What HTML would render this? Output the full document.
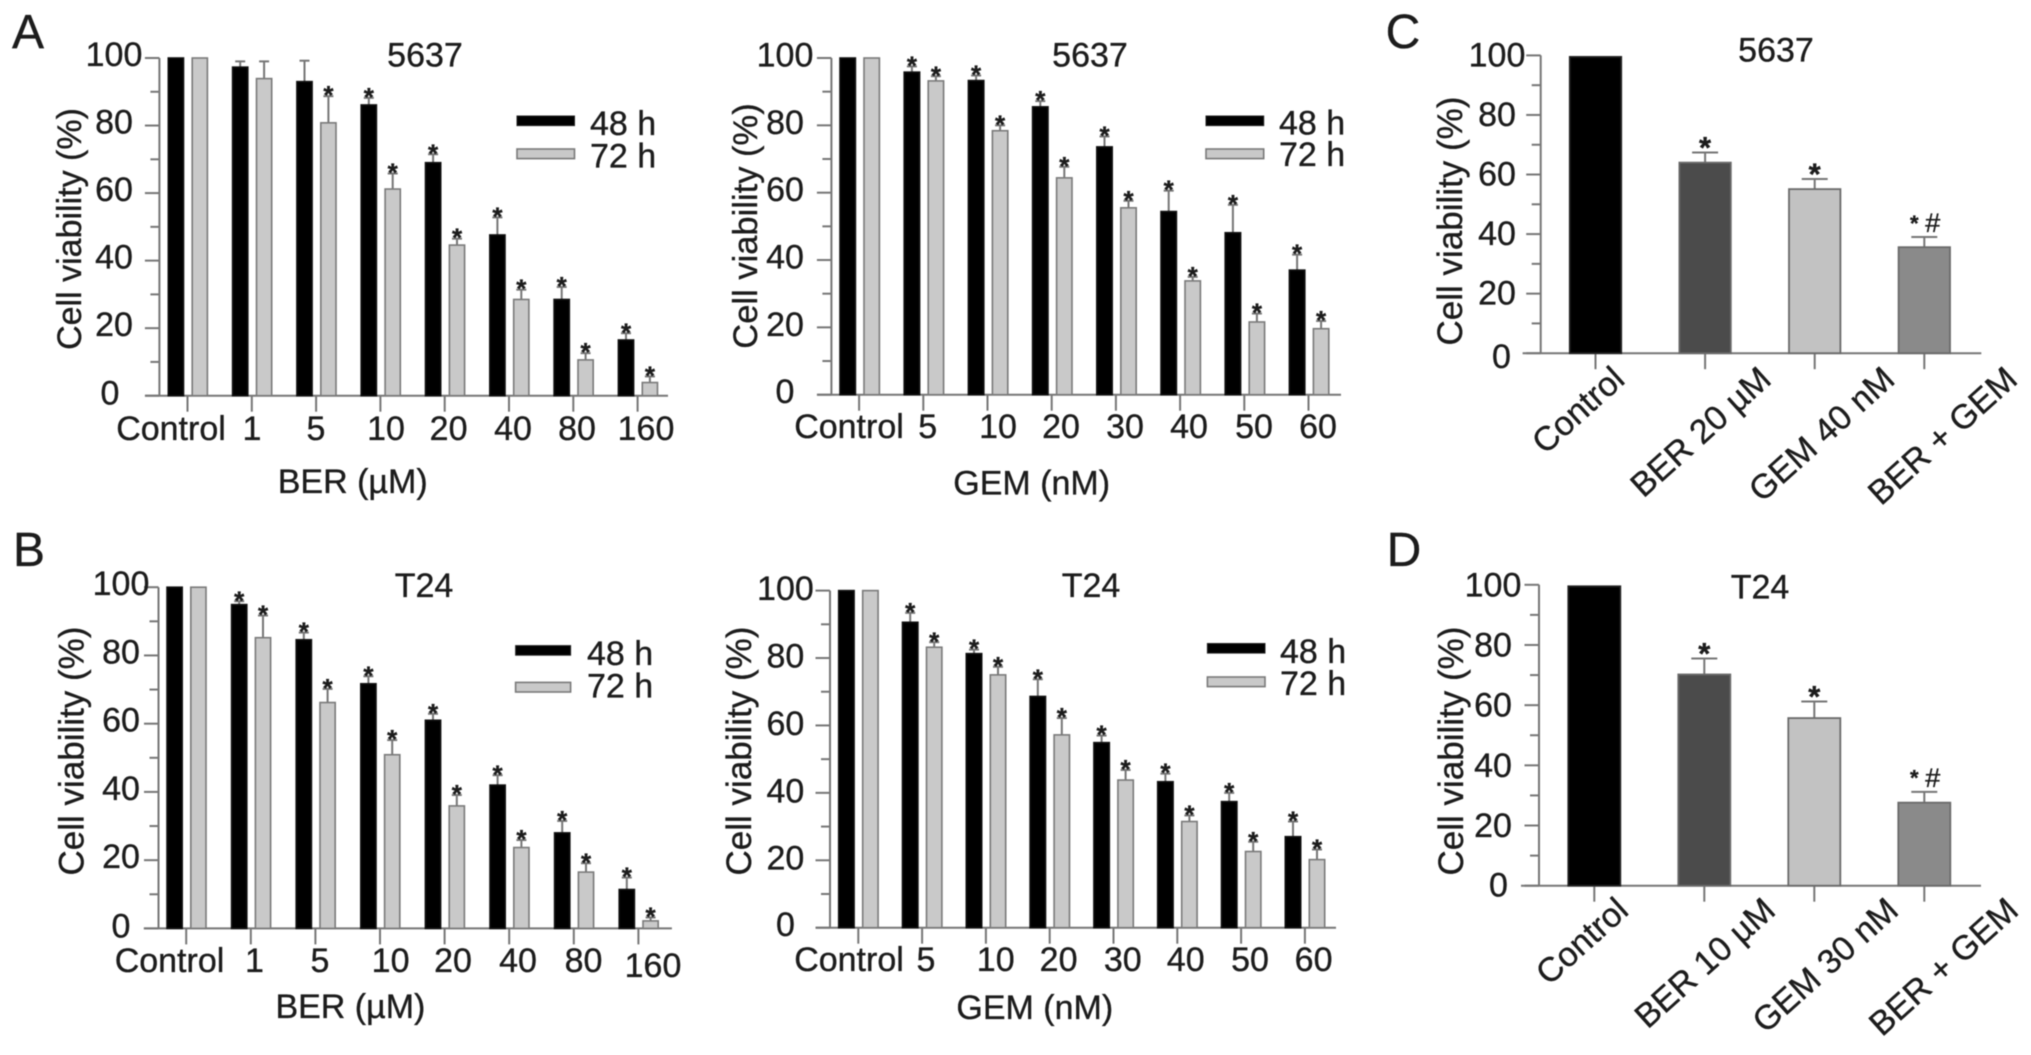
<!DOCTYPE html>
<html lang="en">
<head>
<meta charset="utf-8">
<title>Cell viability charts</title>
<style>
html,body{margin:0;padding:0;background:#fff;width:2031px;height:1055px;overflow:hidden}
svg{display:block;filter:blur(0.55px)}
text{font-family:"Liberation Sans",Arial,sans-serif;fill:#1c1c1c;stroke:#1c1c1c;stroke-width:0.35px}
</style>
</head>
<body>
<svg id="figure" xmlns="http://www.w3.org/2000/svg" width="2031" height="1055" viewBox="0 0 2031 1055"></svg>
<script>
/* ---------- data ---------- */
const yMajorTicks = [0, 20, 40, 60, 80, 100];
const yMinorTicks = [10, 30, 50, 70, 90];

const berCategories = ['Control', '1', '5', '10', '20', '40', '80', '160'];
const gemCategories = ['Control', '5', '10', '20', '30', '40', '50', '60'];

const a1Values48 = [100, 97.3, 93, 86.1, 69, 47.6, 28.5, 16.5];
const a1Errors48 = [100, 99, 99.2, 88.2, 71.5, 52.8, 32.2, 18.5];
const a1Stars48 = [0, 0, 0, 1, 1, 1, 1, 1];
const a1Values72 = [100, 93.9, 80.8, 61.2, 44.6, 28.5, 10.6, 3.9];
const a1Errors72 = [100, 99, 88.7, 65.8, 46.5, 31.4, 12.6, 5.7];
const a1Stars72 = [0, 0, 1, 1, 1, 1, 1, 1];

const a2Values48 = [100, 95.8, 93.3, 85.5, 73.6, 54.4, 48.1, 37];
const a2Errors48 = [100, 97.5, 94.8, 87.2, 76.7, 60.6, 56.4, 41.6];
const a2Stars48 = [0, 1, 1, 1, 1, 1, 1, 1];
const a2Values72 = [100, 93.2, 78.4, 64.4, 55.5, 33.8, 21.6, 19.6];
const a2Errors72 = [100, 94.6, 80, 67.7, 57.6, 35, 24.1, 21.9];
const a2Stars72 = [0, 1, 1, 1, 1, 1, 1, 1];

const b1Values48 = [100, 94.9, 84.6, 71.7, 61, 42, 28, 11.4];
const b1Errors48 = [100, 95.9, 86.7, 73.9, 62.9, 44.9, 31.5, 14.9];
const b1Stars48 = [0, 1, 1, 1, 1, 1, 1, 1];
const b1Values72 = [100, 85.2, 66.2, 50.9, 35.9, 23.7, 16.5, 2.2];
const b1Errors72 = [100, 91.7, 70.2, 55.2, 39.1, 25.9, 19.1, 3.2];
const b1Stars72 = [0, 1, 1, 1, 1, 1, 1, 1];

const b2Values48 = [100, 90.6, 81.3, 68.6, 54.9, 43.3, 37.4, 27];
const b2Errors48 = [100, 93.4, 82.5, 73.7, 57, 45.7, 40, 31.5];
const b2Stars48 = [0, 1, 1, 1, 1, 1, 1, 1];
const b2Values72 = [100, 83.2, 75, 57.2, 43.8, 31.5, 22.6, 20.2];
const b2Errors72 = [100, 84.7, 77.4, 62.2, 46.8, 33.3, 25.5, 23.2];
const b2Stars72 = [0, 1, 1, 1, 1, 1, 1, 1];

const cCategories = ['Control', 'BER 20 µM', 'GEM 40 nM', 'BER + GEM'];
const cValues = [99.5, 64, 55.1, 35.6];
const cErrors = [99.5, 67.4, 58.5, 39];
const cMarkers = ['', '*', '*', '*#'];

const dCategories = ['Control', 'BER 10 µM', 'GEM 30 nM', 'BER + GEM'];
const dValues = [99.5, 70.2, 55.7, 27.6];
const dErrors = [99.5, 75.5, 61.2, 31.2];
const dMarkers = ['', '*', '*', '*#'];

/* ---------- helpers ---------- */
const NS = 'http://www.w3.org/2000/svg';
const root = document.getElementById('figure');
const AXIS = '#767676';
const TICK_FS = 34;

function make(parent, tag, attrs, content) {
  const el = document.createElementNS(NS, tag);
  for (const k in attrs) el.setAttribute(k, attrs[k]);
  if (content !== undefined) el.textContent = content;
  parent.appendChild(el);
  return el;
}
function slug(s) {
  return String(s).toLowerCase().replace(/[^a-z0-9]+/g, '-').replace(/^-|-$/g, '');
}
function yScale(cfg, v) {
  return cfg.y0 + (cfg.y100 - cfg.y0) * v / 100;
}
function xTick(cfg, i) {
  return cfg.x0 + cfg.step * i;
}
function centerText(parent, x, cy, fs, str) {
  return make(parent, 'text', {x: x, y: cy + fs * 0.352, 'font-size': fs, 'text-anchor': 'middle'}, str);
}

/* ---------- shared axes ---------- */
function drawAxes(g, cfg, categories) {
  const yAxis = make(g, 'line', {x1: cfg.axisX, x2: cfg.axisX, y1: cfg.y100, y2: cfg.y0, stroke: AXIS, 'stroke-width': 2});
  
  

  const xAxis = make(g, 'line', {x1: cfg.baseL, x2: cfg.baseR, y1: cfg.y0, y2: cfg.y0, stroke: AXIS, 'stroke-width': 2});
  
  

  yMajorTicks.forEach(function (v) {
    const y = yScale(cfg, v);
    const tick = make(g, 'line', {x1: cfg.axisX - 14.5, x2: cfg.axisX, y1: y, y2: y, stroke: AXIS, 'stroke-width': 2});
    
    
    const dy = v === 0 ? cfg.zeroDy : cfg.yLabelDy;
    const label = centerText(g, v === 0 ? cfg.zeroX : cfg.yLabelX, y + dy, TICK_FS, String(v));
    
    
  });
  yMinorTicks.forEach(function (v) {
    const y = yScale(cfg, v);
    const tick = make(g, 'line', {x1: cfg.axisX - 9, x2: cfg.axisX, y1: y, y2: y, stroke: AXIS, 'stroke-width': 2});
    
    
  });
  categories.forEach(function (c, i) {
    const x = xTick(cfg, i);
    const tick = make(g, 'line', {x1: x, x2: x, y1: cfg.y0, y2: cfg.y0 + 16, stroke: AXIS, 'stroke-width': 2});
    
    
  });

  const title = centerText(g, cfg.titleX, cfg.titleY, TICK_FS, cfg.title);
  
  

  const yTitle = make(g, 'text', {
    x: 0, y: 0, 'font-size': cfg.yTitleFs, 'text-anchor': 'middle',
    transform: 'translate(' + (cfg.yTitleX + 12) + ' ' + cfg.yTitleY + ') rotate(-90)'
  }, 'Cell viability (%)');
  
  

  if (cfg.letter) {
    const letter = make(g, 'text', {x: cfg.letterX, y: cfg.letterY, 'font-size': 48, 'text-anchor': 'middle'}, cfg.letter);
    
    
  }
}

function drawErrorBar(g, x, yTop, yBase, capW) {
  const stem = make(g, 'line', {x1: x, x2: x, y1: yTop, y2: yBase, stroke: AXIS, 'stroke-width': 2});
  
  
  const cap = make(g, 'line', {x1: x - capW / 2, x2: x + capW / 2, y1: yTop, y2: yTop, stroke: AXIS, 'stroke-width': 2});
  
  
}

/* ---------- grouped 48 h / 72 h panels ---------- */
function drawSeries(g, cfg, categories, values, errors, stars, offset, fill, stroke, key) {
  values.forEach(function (v, i) {
    const cx = xTick(cfg, i) + offset;
    const top = yScale(cfg, v);
    const eTop = yScale(cfg, errors[i]);
    if (errors[i] > v) drawErrorBar(g, cx, eTop, top, 10);
    const bar = make(g, 'rect', {x: cx - cfg.barW / 2, y: top, width: cfg.barW, height: cfg.y0 - top, fill: fill, stroke: stroke, 'stroke-width': 1.6});
    
    
    if (stars[i]) {
      const star = make(g, 'text', {x: cx, y: eTop - 7 + 26 * 0.58, 'font-size': 26, 'text-anchor': 'middle', 'font-weight': 'bold'}, '*');
      
      
    }
  });
}

function drawGrouped(cfg, categories, v48, e48, s48, v72, e72, s72) {
  const g = make(root, 'g', {});
  
  
  drawAxes(g, cfg, categories);
  drawSeries(g, cfg, categories, v48, e48, s48, cfg.dx48, '#000000', '#111111', '48h');
  drawSeries(g, cfg, categories, v72, e72, s72, cfg.dx72, '#c9c9c9', '#7a7a7a', '72h');

  categories.forEach(function (c, i) {
    const label = centerText(g, cfg.labelX[i], cfg.labelY + (cfg.labelShiftY ? cfg.labelShiftY[i] : 0), TICK_FS, c);
    
    
  });

  const xTitle = centerText(g, cfg.xTitleX, cfg.xTitleY, TICK_FS, cfg.xTitle);
  
  

  const swatch48 = make(g, 'rect', {x: cfg.legX, y: cfg.leg48Y, width: cfg.legW, height: 9.6, fill: '#000', stroke: '#222', 'stroke-width': 1});
  
  
  const swatch72 = make(g, 'rect', {x: cfg.legX, y: cfg.leg72Y, width: cfg.legW, height: 9.6, fill: '#c9c9c9', stroke: '#7a7a7a', 'stroke-width': 1.6});
  
  

  const text48 = make(g, 'text', {x: cfg.legTextX, y: cfg.legText48Y, 'font-size': TICK_FS}, '48 h');
  
  
  const text72 = make(g, 'text', {x: cfg.legTextX, y: cfg.legText72Y, 'font-size': TICK_FS}, '72 h');
  
  
}

/* ---------- single-series combination panels ---------- */
const comboFills = ['#000000', '#4b4b4b', '#c2c2c2', '#8a8a8a'];

function drawCombo(cfg, categories, values, errors, markers) {
  const g = make(root, 'g', {});
  
  
  drawAxes(g, cfg, categories);

  values.forEach(function (v, i) {
    const cx = xTick(cfg, i);
    const top = yScale(cfg, v);
    const eTop = yScale(cfg, errors[i]);
    if (errors[i] > v) drawErrorBar(g, cx, eTop, top, 26);
    const bar = make(g, 'rect', {x: cx - cfg.barW / 2, y: top, width: cfg.barW, height: cfg.y0 - top, fill: comboFills[i], stroke: i === 0 ? '#222' : '#6a6a6a', 'stroke-width': 1.8});
    
    

    if (markers[i] === '*') {
      const star = make(g, 'text', {x: cx, y: eTop - 12.5 + 31 * 0.58, 'font-size': 31, 'text-anchor': 'middle', 'font-weight': 'bold'}, '*');
      
      
    } else if (markers[i] === '*#') {
      const small = make(g, 'text', {x: cx - 10, y: eTop - 19 + 22 * 0.58, 'font-size': 22, 'text-anchor': 'middle', 'font-weight': 'bold'}, '*');
      
      
      const hash = make(g, 'text', {x: cx + 8.5, y: eTop - 14.5 + 27 * 0.35, 'font-size': 27, 'text-anchor': 'middle'}, '#');
      
      
    }

    const lx = cx + cfg.rotDx[i];
    const label = make(g, 'text', {
      x: lx, y: cfg.rotY, 'font-size': TICK_FS, 'text-anchor': 'end',
      transform: 'rotate(-42 ' + lx + ' ' + cfg.rotY + ')'
    }, categories[i]);
    
    
  });
}

/* ---------- layout + render ---------- */
drawGrouped({
  name: 'panel-a-ber-5637', title: '5637', titleX: 425, titleY: 54.7, letter: 'A', letterX: 28, letterY: 48,
  axisX: 159.4, y100: 58, y0: 395.7, baseL: 145, baseR: 668, x0: 187.5, step: 64.3, barW: 15.2, dx48: -11.6, dx72: 12.3,
  yLabelX: 114, zeroX: 110, yLabelDy: -4, zeroDy: -3, yTitleX: 69, yTitleY: 229, yTitleFs: 34,
  labelX: [171, 252, 316, 386, 448.6, 513, 577, 646], labelY: 428,
  xTitle: 'BER (µM)', xTitleX: 352.7, xTitleY: 481,
  legX: 517, legW: 57.5, leg48Y: 116, leg72Y: 149, legTextX: 590, legText48Y: 135, legText72Y: 167.5
}, berCategories, a1Values48, a1Errors48, a1Stars48, a1Values72, a1Errors72, a1Stars72);

drawGrouped({
  name: 'panel-a-gem-5637', title: '5637', titleX: 1090, titleY: 54.7, letter: '', letterX: 0, letterY: 0,
  axisX: 831.4, y100: 58, y0: 394.7, baseL: 817, baseR: 1341, x0: 859.1, step: 64.2, barW: 15.4, dx48: -11.4, dx72: 12.6,
  yLabelX: 785, zeroX: 785, yLabelDy: -3.5, zeroDy: -3.5, yTitleX: 745, yTitleY: 226, yTitleFs: 34.5,
  labelX: [849, 927.7, 998, 1061, 1125, 1189, 1254, 1318], labelY: 426,
  xTitle: 'GEM (nM)', xTitleX: 1031.7, xTitleY: 482.6,
  legX: 1206, legW: 57.7, leg48Y: 116, leg72Y: 149, legTextX: 1279, legText48Y: 134.5, legText72Y: 166
}, gemCategories, a2Values48, a2Errors48, a2Stars48, a2Values72, a2Errors72, a2Stars72);

drawGrouped({
  name: 'panel-b-ber-t24', title: 'T24', titleX: 424, titleY: 584.8, letter: 'B', letterX: 29, letterY: 566,
  axisX: 158.5, y100: 587.2, y0: 928.4, baseL: 143.8, baseR: 671.9, x0: 186.2, step: 64.6, barW: 15.2, dx48: -11.6, dx72: 12.2,
  yLabelX: 121, zeroX: 121, yLabelDy: -4, zeroDy: -3, yTitleX: 71.4, yTitleY: 751, yTitleFs: 35,
  labelX: [169.5, 254.5, 320, 390.6, 453, 518, 583.5, 653], labelY: 960, labelShiftY: [0, 0, 0, 0, 0, 0, 0, 5],
  xTitle: 'BER (µM)', xTitleX: 350.4, xTitleY: 1006,
  legX: 515.6, legW: 55, leg48Y: 645.6, leg72Y: 682.4, legTextX: 587, legText48Y: 665, legText72Y: 697.5
}, berCategories, b1Values48, b1Errors48, b1Stars48, b1Values72, b1Errors72, b1Stars72);

drawGrouped({
  name: 'panel-b-gem-t24', title: 'T24', titleX: 1091, titleY: 585, letter: '', letterX: 0, letterY: 0,
  axisX: 830, y100: 590.6, y0: 927.7, baseL: 815.8, baseR: 1336, x0: 858.3, step: 63.8, barW: 15.4, dx48: -11.9, dx72: 12.1,
  yLabelX: 785.4, zeroX: 785.4, yLabelDy: -2.5, zeroDy: -3.5, yTitleX: 739, yTitleY: 751, yTitleFs: 35,
  labelX: [849, 926, 995.7, 1058.6, 1122.8, 1185.7, 1250, 1313.6], labelY: 959,
  xTitle: 'GEM (nM)', xTitleX: 1034.8, xTitleY: 1007,
  legX: 1207.4, legW: 57.6, leg48Y: 643.5, leg72Y: 677, legTextX: 1280, legText48Y: 663, legText72Y: 695
}, gemCategories, b2Values48, b2Errors48, b2Stars48, b2Values72, b2Errors72, b2Stars72);

drawCombo({
  name: 'panel-c-combination-5637', title: '5637', titleX: 1776, titleY: 49.5, letter: 'C', letterX: 1403, letterY: 48,
  axisX: 1540.7, y100: 55.4, y0: 353.2, baseL: 1522.6, baseR: 1981.3, x0: 1595.5, step: 109.6, barW: 51.4,
  yLabelX: 1497, zeroX: 1501.5, yLabelDy: -1, zeroDy: 3, yTitleX: 1450, yTitleY: 221, yTitleFs: 35,
  rotDx: [31, 68, 82, 95], rotY: 382
}, cCategories, cValues, cErrors, cMarkers);

drawCombo({
  name: 'panel-d-combination-t24', title: 'T24', titleX: 1760, titleY: 586.5, letter: 'D', letterX: 1404, letterY: 566,
  axisX: 1539, y100: 584.8, y0: 885.7, baseL: 1521, baseR: 1981, x0: 1594.3, step: 110, barW: 52,
  yLabelX: 1493, zeroX: 1498.5, yLabelDy: -0.5, zeroDy: -1, yTitleX: 1451, yTitleY: 751, yTitleFs: 35,
  rotDx: [36, 73, 86, 96], rotY: 913
}, dCategories, dValues, dErrors, dMarkers);
</script>
</body>
</html>
